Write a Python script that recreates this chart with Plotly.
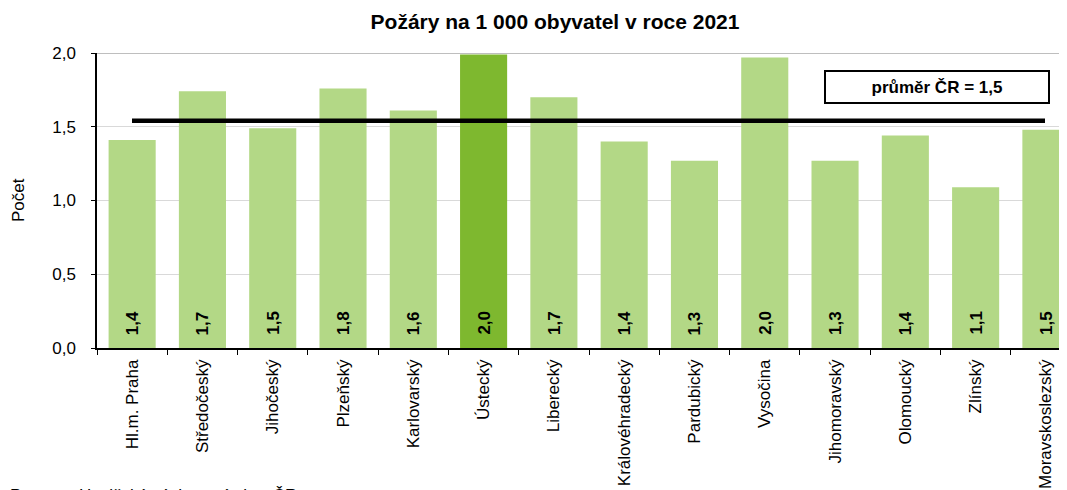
import plotly.graph_objects as go

categories = ["Hl.m. Praha", "Středočeský", "Jihočeský", "Plzeňský", "Karlovarský",
              "Ústecký", "Liberecký", "Královéhradecký", "Pardubický", "Vysočina",
              "Jihomoravský", "Olomoucký", "Zlínský", "Moravskoslezský"]
values = [1.41, 1.74, 1.49, 1.76, 1.61, 1.99, 1.70, 1.40, 1.27, 1.97, 1.27, 1.44, 1.09, 1.48]
highlight = "Ústecký"
average = 1.54
average_label = "průměr ČR = 1,5"
title = "Požáry na 1 000 obyvatel v roce 2021"
y_title = "Počet"
source = "Pramen: Hasičský záchranný sbor ČR"

LIGHT = "#B3D886"
DARK = "#7EB82F"
FONT = "Liberation Sans, Arial, sans-serif"

colors = [DARK if c == highlight else LIGHT for c in categories]

fig = go.Figure()
fig.add_trace(go.Bar(x=categories, y=values, marker=dict(color=colors, line=dict(width=0)),
                     width=0.67, showlegend=False, hoverinfo="x+y"))

# page body has an 8px margin; figure pixels = window pixels - 8
OFF = 8
W, H = 1067 - OFF, 490 - OFF
L, R, T = 97 - OFF, 0, 53 - OFF
B = H - (348 - OFF)
PW, PH = W - L - R, H - T - B


def px_x(p):
    return (p - OFF - L) / PW


def px_y(p):
    return (H - B - (p - OFF)) / PH


annotations = []
for c, v in zip(categories, values):
    annotations.append(dict(x=c, y=0, xref="x", yref="y", text=f"<b>{v:.1f}</b>".replace(".", ","),
                            textangle=-90, showarrow=False, yanchor="bottom", xanchor="center",
                            yshift=11, font=dict(family=FONT, size=17, color="black")))
annotations.append(dict(x=px_x(937), y=px_y(87), xref="paper", yref="paper",
                        text=f"<b>{average_label}</b>", showarrow=False,
                        font=dict(family=FONT, size=17, color="black"),
                        bordercolor="black", borderwidth=2, width=222, height=30, borderpad=0,
                        xanchor="center", yanchor="middle", bgcolor="white"))
annotations.append(dict(x=px_x(18), y=px_y(200), xref="paper", yref="paper", text=y_title,
                        textangle=-90, showarrow=False, xanchor="center", yanchor="middle",
                        font=dict(family=FONT, size=17, color="black")))
annotations.append(dict(x=px_x(8), y=px_y(484), xref="paper", yref="paper", xanchor="left",
                        yanchor="top", text=source, showarrow=False,
                        font=dict(family=FONT, size=17, color="black")))

shapes = [
    dict(type="line", xref="paper", yref="y", x0=px_x(132), x1=px_x(1045),
         y0=average, y1=average, line=dict(color="black", width=4.5), layer="above"),
    dict(type="line", xref="paper", yref="y", x0=0, x1=1, y0=2.0, y1=2.0,
         line=dict(color="#7F7F7F", width=1), layer="below"),
]

fig.update_layout(
    width=W, height=H,
    margin=dict(l=L, r=R, t=T, b=B, autoexpand=False),
    paper_bgcolor="white", plot_bgcolor="white",
    separators=", ",
    font=dict(family=FONT, size=17, color="black"),
    title=dict(text=f"<b>{title}</b>", x=(555 - OFF) / W, xanchor="center", xref="container",
               y=1 - (22 - OFF) / H, yanchor="middle", yref="container",
               font=dict(family=FONT, size=21, color="black")),
    annotations=annotations,
    shapes=shapes,
    xaxis=dict(range=[-0.5, 13.30], tickangle=-90, showline=True, linecolor="black", linewidth=1.5,
               ticks="outside", tickson="boundaries", ticklen=5, tickcolor="black",
               showgrid=False, automargin=False, ticklabelstandoff=3,
               tickfont=dict(family=FONT, size=17, color="black")),
    yaxis=dict(range=[0, 2.0], dtick=0.5, tickformat=".1f", showline=True, linecolor="black",
               linewidth=1.5, ticks="outside", ticklen=4, tickcolor="black",
               gridcolor="#D9D9D9", gridwidth=1, zeroline=False, automargin=False,
               ticklabelstandoff=12,
               tickfont=dict(family=FONT, size=17, color="black")),
)

fig.write_html("out.html")
